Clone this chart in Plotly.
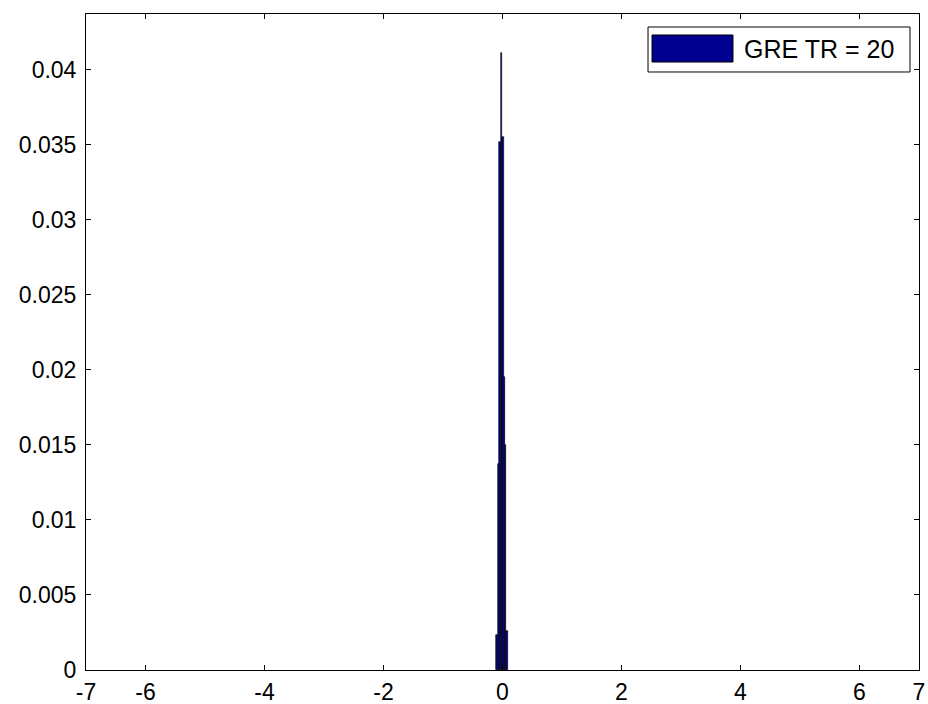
import plotly.graph_objects as go

# Histogram bins (centers) and heights
bin_centers = [-0.090, -0.066, -0.042, -0.018, 0.006, 0.030, 0.054, 0.078]
bin_heights = [0.0023, 0.0137, 0.0352, 0.0411, 0.0355, 0.0195, 0.0150, 0.0026]
bin_width = 0.024
series_name = "GRE TR = 20"

x_ticks = [-7, -6, -4, -2, 0, 2, 4, 6, 7]
y_ticks = [0, 0.005, 0.01, 0.015, 0.02, 0.025, 0.03, 0.035, 0.04]
y_tick_text = ["0", "0.005", "0.01", "0.015", "0.02", "0.025", "0.03", "0.035", "0.04"]

FONT = "Liberation Sans, Arial, sans-serif"
BAR_COLOR = "#00008F"

fig = go.Figure()
fig.add_trace(go.Bar(
    x=bin_centers, y=bin_heights, width=[bin_width] * len(bin_centers),
    marker=dict(color=BAR_COLOR, line=dict(color="black", width=0.6)),
    name=series_name, showlegend=False,
))

axis_common = dict(
    showgrid=False, zeroline=False, showline=True, linecolor="black", linewidth=1,
    mirror="ticks", ticks="inside", ticklen=5, tickcolor="black", tickwidth=1,
    tickfont=dict(family=FONT, size=23, color="black"), automargin=False,
)

fig.update_xaxes(range=[-7, 7], tickmode="array", tickvals=x_ticks,
                 ticktext=[str(v) for v in x_ticks], ticklabelstandoff=1, **axis_common)
fig.update_yaxes(range=[0, 0.0437], tickmode="array", tickvals=y_ticks,
                 ticktext=y_tick_text, ticklabelstandoff=4, **axis_common)

# Legend box (MATLAB style)
fig.add_shape(type="rect", xref="paper", yref="paper", x0=0.6747, x1=0.9892, y0=0.9116, y1=0.9802,
              line=dict(color="black", width=1), fillcolor="white", layer="above")
fig.add_shape(type="rect", xref="paper", yref="paper", x0=0.6795, x1=0.7767, y0=0.9268, y1=0.9680,
              line=dict(color="black", width=1), fillcolor=BAR_COLOR, layer="above")
fig.add_annotation(xref="paper", yref="paper", x=0.7875, y=0.9474, text=series_name,
                   showarrow=False, xanchor="left", yanchor="middle",
                   font=dict(family=FONT, size=25, color="black"))

fig.update_layout(
    width=928, height=704,
    margin=dict(l=86, r=9, t=14, b=34),
    plot_bgcolor="white", paper_bgcolor="white",
    bargap=0, showlegend=False,
    font=dict(family=FONT, color="black"),
)

# Remove the default page body margin so the figure fills the window exactly
fig.write_html(
    "out.html",
    config={"displayModeBar": False},
    post_script="document.body.style.margin='0';document.body.style.overflow='hidden';",
)
